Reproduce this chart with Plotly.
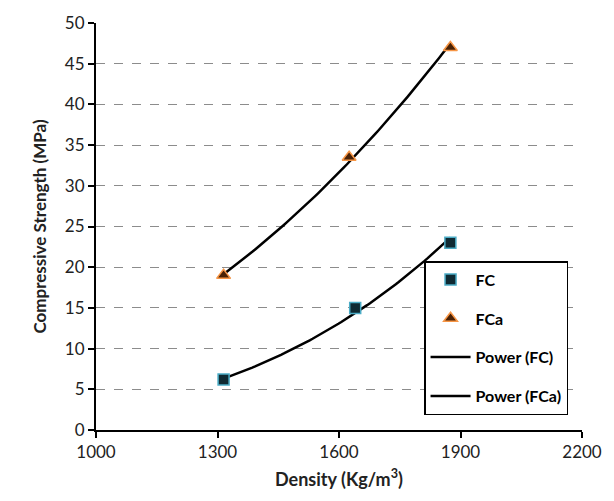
import numpy as np
import plotly.graph_objects as go

# Data
fc_density = [1315, 1640, 1875]
fc_strength = [6.2, 15.0, 23.0]
fca_density = [1315, 1625, 1875]
fca_strength = [19.0, 33.5, 47.0]
x_ticks = [1000, 1300, 1600, 1900, 2200]
y_ticks = [0, 5, 10, 15, 20, 25, 30, 35, 40, 45, 50]


def power_fit(x, y, n=80):
    lx, ly = np.log(x), np.log(y)
    b, la = np.polyfit(lx, ly, 1)
    xs = np.linspace(min(x), max(x), n)
    return xs, np.exp(la) * xs ** b


fc_tx, fc_ty = power_fit(fc_density, fc_strength)
fca_tx, fca_ty = power_fit(fca_density, fca_strength)

font_family = "Lato, 'Open Sans', sans-serif"

fig = go.Figure()
fig.add_trace(go.Scatter(
    x=fc_tx, y=fc_ty, mode="lines", name="Power (FC)",
    line=dict(color="black", width=2.5), legendgroup="c", legendrank=3))
fig.add_trace(go.Scatter(
    x=fca_tx, y=fca_ty, mode="lines", name="Power (FCa)",
    line=dict(color="black", width=2.5), legendgroup="d", legendrank=4))
fig.add_trace(go.Scatter(
    x=fc_density, y=fc_strength, mode="markers", name="FC",
    marker=dict(symbol="square", size=11, color="#0f2a33",
                line=dict(color="#4bacc6", width=1.5)),
    legendgroup="a", legendrank=1))
fig.add_trace(go.Scatter(
    x=fca_density, y=fca_strength, mode="markers", name="FCa",
    marker=dict(symbol="triangle-up", size=12, color="#4a2206",
                line=dict(color="#f79646", width=1.5)),
    legendgroup="b", legendrank=2))

fig.update_layout(
    width=614, height=501,
    margin=dict(l=96, r=24, t=17, b=71),
    paper_bgcolor="white", plot_bgcolor="white",
    font=dict(family=font_family, color="#222222"),
    showlegend=True,
    legend=dict(
        x=0.675, y=0.415, xanchor="left", yanchor="top",
        bgcolor="white", bordercolor="black", borderwidth=1.5,
        font=dict(size=16, color="black", family=font_family, weight="bold"),
        tracegroupgap=15, itemwidth=40,
    ),
    xaxis=dict(
        range=[1000, 2200], tickvals=x_ticks,
        showline=True, linecolor="black", linewidth=2,
        ticks="outside", ticklen=6, tickwidth=2, tickcolor="black",
        showgrid=False, zeroline=False,
        tickfont=dict(size=17, color="#222222"),
        title=dict(text="Density (Kg/m<sup>3</sup>)",
                   font=dict(size=18, color="#222222", weight="bold"),
                   standoff=12),
    ),
    yaxis=dict(
        range=[0, 50], tickvals=y_ticks,
        showline=True, linecolor="black", linewidth=2,
        ticks="outside", ticklen=6, tickwidth=2, tickcolor="black",
        showgrid=True, gridcolor="#8c8c8c", griddash="dash", gridwidth=1,
        zeroline=False,
        tickfont=dict(size=17, color="#222222"),
        title=dict(text="Compressive Strength (MPa)",
                   font=dict(size=17, color="#222222", weight="bold"),
                   standoff=14),
    ),
)

fig.write_html("out.html")
